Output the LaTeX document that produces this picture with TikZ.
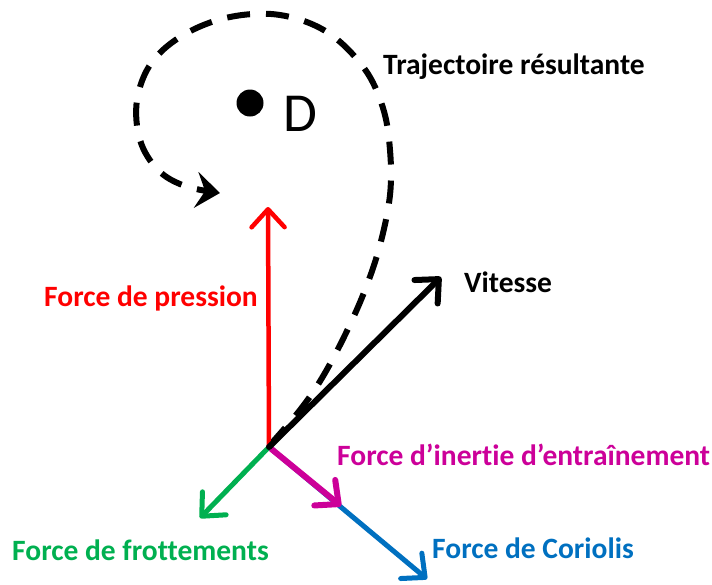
\documentclass[tikz,border=0pt]{standalone}
\usepackage{fontspec}
\setmainfont{Carlito}[Ligatures=NoCommon]
\usetikzlibrary{arrows.meta}
\definecolor{cred}{RGB}{255,0,0}
\definecolor{cgreen}{RGB}{0,176,80}
\definecolor{cmag}{RGB}{204,0,153}
\definecolor{cblue}{RGB}{0,112,192}
\tikzset{
  lbl/.style={anchor=base west, inner sep=0pt, font=\fontsize{29.5}{32}\selectfont\bfseries},
  vec/.style={line cap=round, -{Straight Barb[length=18pt,width=33pt,round]}},
}
\begin{document}
\begin{tikzpicture}[x=1pt,y=-1pt]
\useasboundingbox (0,0) rectangle (712,584);
\coordinate (O) at (269,447);
\coordinate (Pt) at (268,207);
\coordinate (Vt) at (441,277);
\coordinate (Gt) at (200,518);
\coordinate (Mt) at (341,506);
\coordinate (Bt) at (427,579);
% dashed trajectory
\draw[line width=6pt, dash pattern=on 23pt off 16pt, -{Stealth[length=24pt,width=36pt,inset=9pt]}]
  plot[smooth, tension=0.6] coordinates {(270,445) (300,410) (322,378) (345,335) (365,290) (380,245) (390,195) (390,150) (383,108) (364,68) (327,32) (280,15) (230,17) (185,34) (152,62) (137,100) (140,140) (158,170) (185,186) (220,193)};
% vectors
\draw[cred, line width=4.5pt, vec] (O) -- (Pt);
\draw[cblue, line width=5pt, vec] (O) -- (Bt);
\draw[cmag, line width=6pt, vec] (O) -- (Mt);
\draw[cgreen, line width=5pt, vec] (O) -- (Gt);
\draw[black, line width=6pt, vec] (O) -- (Vt);
% point D
\fill (250,103) circle (13.5pt);
\node[anchor=base west, inner sep=0pt, font=\fontsize{55}{60}\selectfont] (D) at (283,131) {D};
% labels
\node[lbl] (traj) at (383,74) {Trajectoire résultante};
\node[lbl, text=cred] (press) at (44,306) {Force de pression};
\node[lbl] (vit) at (464,292) {Vitesse};
\node[lbl, text=cmag] (inert) at (337,465) {Force d’inertie d’entraînement};
\node[lbl, text=cgreen] (frot) at (12,560) {Force de frottements};
\node[lbl, text=cblue] (cor) at (432,558) {Force de Coriolis};
\end{tikzpicture}
\end{document}
